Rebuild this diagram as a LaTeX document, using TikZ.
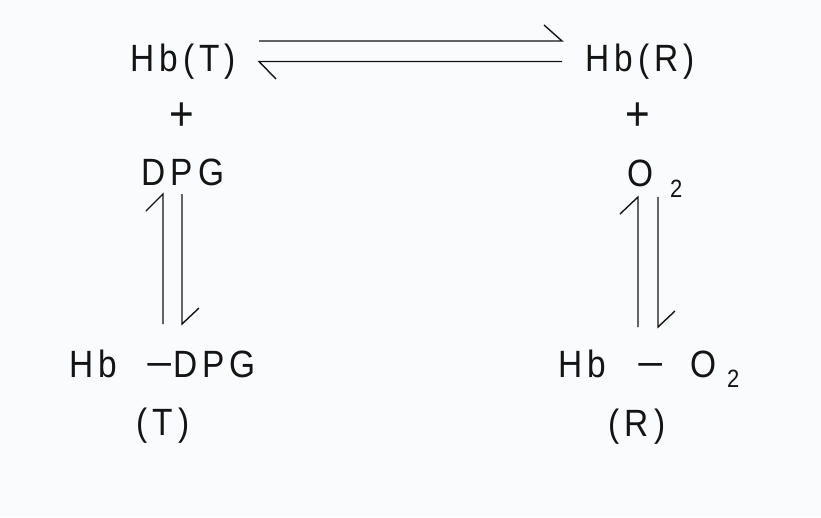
\documentclass[tikz,border=0pt]{standalone}
\usepackage{graphicx}
\usepackage{fontspec}
\setmainfont[LetterSpace=13,FakeStretch=0.88]{Liberation Sans}
\definecolor{bg}{RGB}{250,251,252}
\definecolor{ink}{RGB}{20,20,20}
\newcommand{\wminus}{\scalebox{1.45}[1]{−}}
\begin{document}
\begin{tikzpicture}[x=1pt,y=-1pt,
  lbl/.style={inner sep=0pt,anchor=base,text=ink,font=\fontsize{38}{42}\selectfont},
  pls/.style={inner sep=0pt,anchor=center,text=ink,font=\fontsize{48}{50}\selectfont},
  sub/.style={inner sep=0pt,anchor=base west,text=ink,font=\fontsize{25}{27}\selectfont},
  harp/.style={draw=ink,line width=1.4pt,line join=miter}]
\fill[bg] (0,0) rectangle (821,517);
\useasboundingbox (0,0) rectangle (821,517);
% top row
\node[lbl] (hbT) at (183,71) {Hb(T)};
\node[lbl] (hbR) at (640,71) {Hb(R)};
\node[pls] (plusL) at (182,117) {+};
\node[pls] (plusR) at (638,117) {+};
\node[lbl] (dpg) at (183,185) {DPG};
\node[lbl] (oxy) at (640,186) {O};
\node[sub] (oxs) at (670,197) {2};
% bottom row
\node[lbl,anchor=base west] (hb1) at (69,377) {Hb};
\node[lbl,anchor=base west] (dpg1) at (145,377) {\wminus DPG};
\node[lbl] (tT) at (163,435) {(T)};
\node[lbl,anchor=base west] (hb2) at (558,377) {Hb};
\node[lbl,anchor=base west] (mn2) at (636,377) {\wminus};
\node[lbl,anchor=base west] (o2) at (690,377) {O};
\node[sub] (o2s) at (727,387) {2};
\node[lbl] (tR) at (637,436) {(R)};
% arrow coordinates
\coordinate (t1a) at (259,41);  \coordinate (t1b) at (562,41);  \coordinate (t1c) at (544,25);
\coordinate (t2a) at (562,61.5);\coordinate (t2b) at (259,61.5);\coordinate (t2c) at (276,79);
\coordinate (l1a) at (163,324); \coordinate (l1b) at (163,194); \coordinate (l1c) at (146,211);
\coordinate (l2a) at (182,194); \coordinate (l2b) at (182,324); \coordinate (l2c) at (199,308);
\coordinate (r1a) at (638,327); \coordinate (r1b) at (638,197); \coordinate (r1c) at (620,214);
\coordinate (r2a) at (658,197); \coordinate (r2b) at (658,327); \coordinate (r2c) at (675,311);
\draw[harp] (t1a) -- (t1b) -- (t1c);
\draw[harp] (t2a) -- (t2b) -- (t2c);
\draw[harp] (l1a) -- (l1b) -- (l1c);
\draw[harp] (l2a) -- (l2b) -- (l2c);
\draw[harp] (r1a) -- (r1b) -- (r1c);
\draw[harp] (r2a) -- (r2b) -- (r2c);
\end{tikzpicture}
\end{document}
